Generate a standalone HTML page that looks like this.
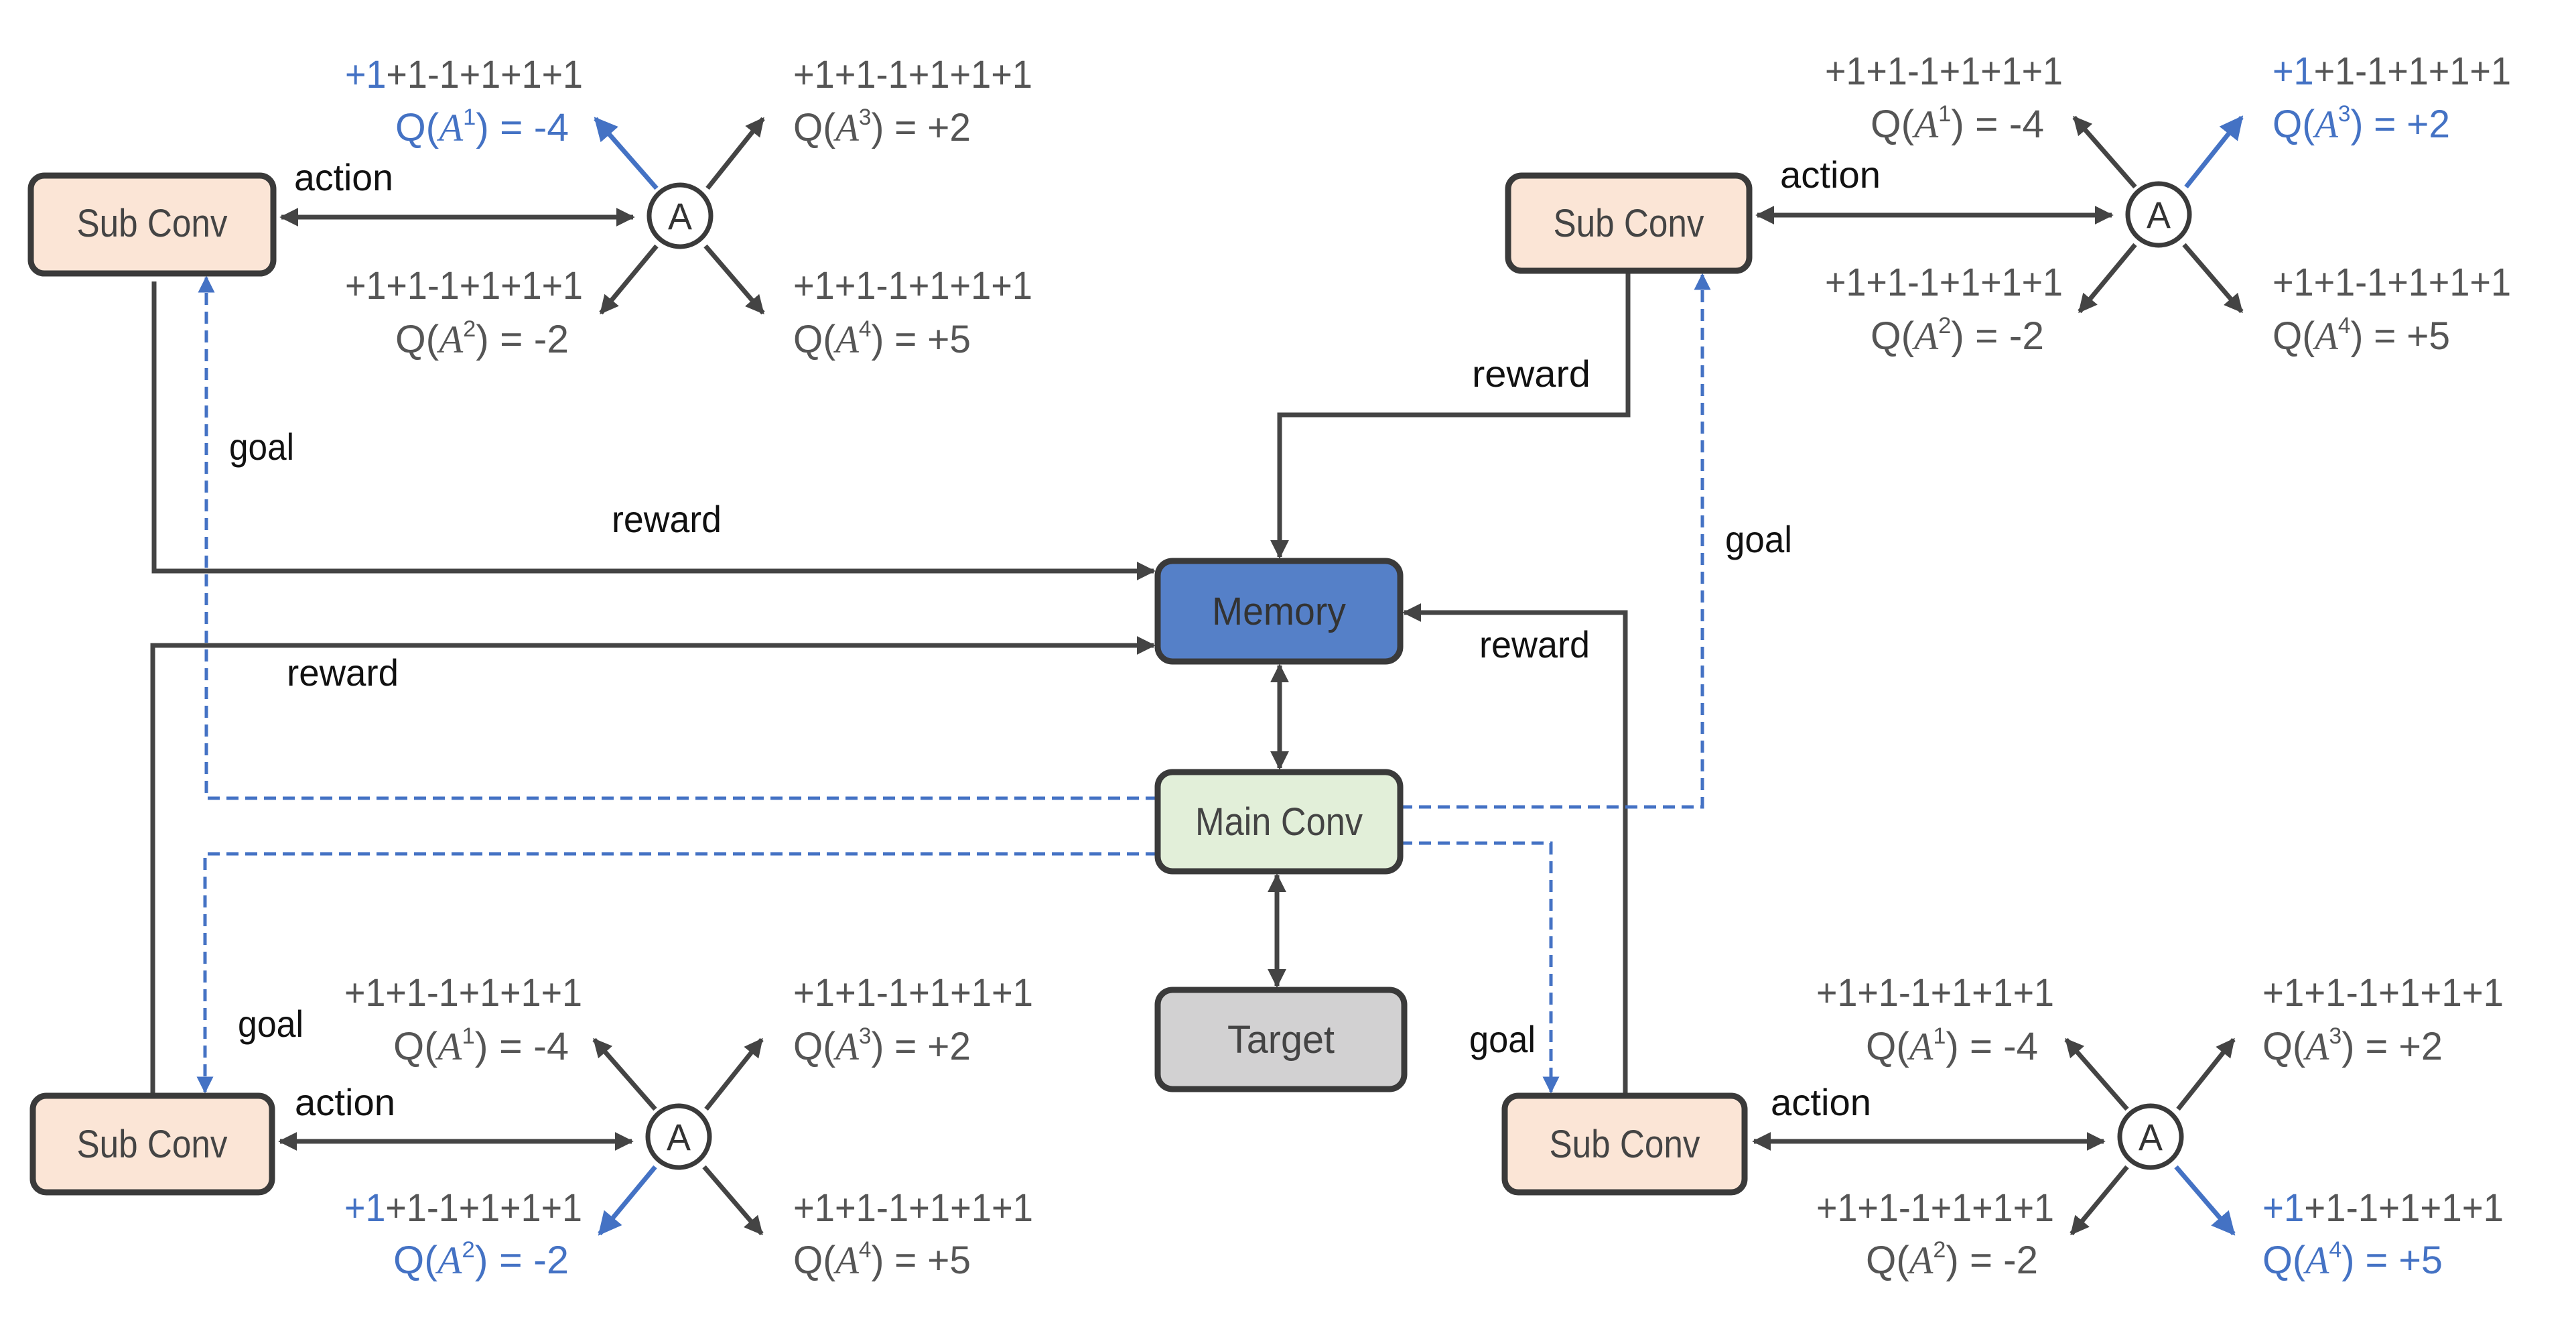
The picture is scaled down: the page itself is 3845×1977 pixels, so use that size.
<!DOCTYPE html>
<html><head><meta charset="utf-8"><style>
html,body{margin:0;padding:0;background:#fff;}
svg{display:block;}
text{font-family:"Liberation Sans",sans-serif;}
</style></head><body>
<svg width="3845" height="1977" viewBox="0 0 3845 1977" xmlns="http://www.w3.org/2000/svg">
<defs>
<marker id="ah" viewBox="0 0 10 10" refX="9" refY="5" markerWidth="4" markerHeight="4" orient="auto-start-reverse" markerUnits="strokeWidth"><path d="M0,0 L10,5 L0,10 z" fill="#444"/></marker>
<marker id="ab" viewBox="0 0 10 10" refX="9" refY="5" markerWidth="5" markerHeight="5" orient="auto-start-reverse" markerUnits="strokeWidth"><path d="M0,0 L10,5 L0,10 z" fill="#4472c4"/></marker>
<g id="clusterbase"></g>
</defs>

<!-- connectors solid -->
<g fill="none" stroke="#444" stroke-width="7">
<polyline points="230,420 230,852 1722,852" marker-end="url(#ah)"/>
<polyline points="228,1635 228,963 1722,963" marker-end="url(#ah)"/>
<polyline points="2430,404 2430,619 1910,619 1910,831" marker-end="url(#ah)"/>
<polyline points="2426,1635 2426,914 2096,914" marker-end="url(#ah)"/>
<line x1="1910" y1="993" x2="1910" y2="1146" marker-start="url(#ah)" marker-end="url(#ah)"/>
<line x1="1906" y1="1306" x2="1906" y2="1471" marker-start="url(#ah)" marker-end="url(#ah)"/>
</g>
<!-- dashed goal -->
<g fill="none" stroke="#4472c4" stroke-width="5" stroke-dasharray="18 10">
<polyline points="1728,1191 308,1191 308,414" marker-end="url(#ab)"/>
<polyline points="1728,1274 306,1274 306,1629" marker-end="url(#ab)"/>
<polyline points="2090,1204 2541,1204 2541,410" marker-end="url(#ab)"/>
<polyline points="2090,1258 2315,1258 2315,1629" marker-end="url(#ab)"/>
</g>

<!-- center boxes -->
<g stroke="#3a3a3a" stroke-width="9">
<rect x="1728" y="837" width="362" height="150" rx="22" fill="#5580c8"/>
<rect x="1728" y="1152" width="362" height="148" rx="22" fill="#e2efd9"/>
<rect x="1728" y="1477" width="368" height="148" rx="22" fill="#d2d1d2"/>
</g>
<g font-size="58" text-anchor="middle" fill="#444">
<text x="1909" y="932" fill="#333" textLength="200" lengthAdjust="spacingAndGlyphs">Memory</text>
<text x="1909" y="1246" textLength="250" lengthAdjust="spacingAndGlyphs">Main Conv</text>
<text x="1912" y="1571" textLength="160" lengthAdjust="spacingAndGlyphs">Target</text>
</g>

<!-- labels -->
<g font-size="56" fill="#111">
<text x="913" y="794" textLength="164" lengthAdjust="spacingAndGlyphs">reward</text>
<text x="428" y="1023" textLength="167" lengthAdjust="spacingAndGlyphs">reward</text>
<text x="2197" y="577" textLength="177" lengthAdjust="spacingAndGlyphs">reward</text>
<text x="2208" y="981" textLength="165" lengthAdjust="spacingAndGlyphs">reward</text>
<text x="342" y="686" textLength="97" lengthAdjust="spacingAndGlyphs">goal</text>
<text x="2575" y="824" textLength="100" lengthAdjust="spacingAndGlyphs">goal</text>
<text x="355" y="1547" textLength="98" lengthAdjust="spacingAndGlyphs">goal</text>
<text x="2193" y="1570" textLength="99" lengthAdjust="spacingAndGlyphs">goal</text>
<text x="439" y="284" textLength="148" lengthAdjust="spacingAndGlyphs">action</text>
<text x="2657" y="280" textLength="150" lengthAdjust="spacingAndGlyphs">action</text>
<text x="440" y="1664" textLength="150" lengthAdjust="spacingAndGlyphs">action</text>
<text x="2643" y="1664" textLength="150" lengthAdjust="spacingAndGlyphs">action</text>
</g>

<!-- Sub Conv boxes -->
<g stroke="#3a3a3a" stroke-width="9" fill="#fbe5d6">
<rect x="46" y="262" width="362" height="146" rx="20"/>
<rect x="2251" y="262" width="360" height="142" rx="20"/>
<rect x="49" y="1635" width="357" height="144" rx="20"/>
<rect x="2246" y="1635" width="358" height="144" rx="20"/>
</g>
<g font-size="58" text-anchor="middle" fill="#444">
<text x="227" y="353" textLength="225" lengthAdjust="spacingAndGlyphs">Sub Conv</text>
<text x="2431" y="353" textLength="225" lengthAdjust="spacingAndGlyphs">Sub Conv</text>
<text x="227" y="1727" textLength="225" lengthAdjust="spacingAndGlyphs">Sub Conv</text>
<text x="2425" y="1727" textLength="225" lengthAdjust="spacingAndGlyphs">Sub Conv</text>
</g>

<!-- action arrows -->
<g stroke="#444" stroke-width="7">
<line x1="420" y1="324" x2="945" y2="324" marker-start="url(#ah)" marker-end="url(#ah)"/>
<line x1="2623" y1="321" x2="3152" y2="321" marker-start="url(#ah)" marker-end="url(#ah)"/>
<line x1="418" y1="1703" x2="943" y2="1703" marker-start="url(#ah)" marker-end="url(#ah)"/>
<line x1="2618" y1="1703" x2="3140" y2="1703" marker-start="url(#ah)" marker-end="url(#ah)"/>
</g>

<!-- clusters -->
<!-- TL -->
<g transform="translate(1015,322)">
<g stroke-width="7" fill="none">
<line x1="-35" y1="-41" x2="-126" y2="-145" stroke="#4472c4" marker-end="url(#ab)"/>
<line x1="41" y1="-41" x2="124" y2="-145" stroke="#444" marker-end="url(#ah)"/>
<line x1="-35" y1="45" x2="-118" y2="145" stroke="#444" marker-end="url(#ah)"/>
<line x1="38" y1="45" x2="124" y2="145" stroke="#444" marker-end="url(#ah)"/>
</g>
<circle r="46" fill="#fff" stroke="#3a3a3a" stroke-width="7"/>
<text x="0" y="20" font-size="56" text-anchor="middle" fill="#333" textLength="36" lengthAdjust="spacingAndGlyphs">A</text>
<g font-size="58" fill="#555">
<text x="-500" y="-191" textLength="355" lengthAdjust="spacingAndGlyphs"><tspan fill="#4472c4">+1</tspan>+1-1+1+1+1</text>
<text x="-425" y="-112" fill="#4472c4" textLength="259" lengthAdjust="spacingAndGlyphs">Q(<tspan font-style="italic" font-family="Liberation Serif">A</tspan><tspan font-size="34" dy="-24">1</tspan><tspan dy="24">) = -4</tspan></text>
<text x="169" y="-191" textLength="357" lengthAdjust="spacingAndGlyphs">+1+1-1+1+1+1</text>
<text x="169" y="-112" textLength="265" lengthAdjust="spacingAndGlyphs">Q(<tspan font-style="italic" font-family="Liberation Serif">A</tspan><tspan font-size="34" dy="-24">3</tspan><tspan dy="24">) = +2</tspan></text>
<text x="-500" y="124" textLength="355" lengthAdjust="spacingAndGlyphs">+1+1-1+1+1+1</text>
<text x="-425" y="204" textLength="259" lengthAdjust="spacingAndGlyphs">Q(<tspan font-style="italic" font-family="Liberation Serif">A</tspan><tspan font-size="34" dy="-24">2</tspan><tspan dy="24">) = -2</tspan></text>
<text x="169" y="124" textLength="357" lengthAdjust="spacingAndGlyphs">+1+1-1+1+1+1</text>
<text x="169" y="204" textLength="265" lengthAdjust="spacingAndGlyphs">Q(<tspan font-style="italic" font-family="Liberation Serif">A</tspan><tspan font-size="34" dy="-24">4</tspan><tspan dy="24">) = +5</tspan></text>
</g>
</g>
<!-- TR -->
<g transform="translate(3222,320)">
<g stroke-width="7" fill="none">
<line x1="-35" y1="-41" x2="-126" y2="-145" stroke="#444" marker-end="url(#ah)"/>
<line x1="41" y1="-41" x2="124" y2="-145" stroke="#4472c4" marker-end="url(#ab)"/>
<line x1="-35" y1="45" x2="-118" y2="145" stroke="#444" marker-end="url(#ah)"/>
<line x1="38" y1="45" x2="124" y2="145" stroke="#444" marker-end="url(#ah)"/>
</g>
<circle r="46" fill="#fff" stroke="#3a3a3a" stroke-width="7"/>
<text x="0" y="20" font-size="56" text-anchor="middle" fill="#333" textLength="36" lengthAdjust="spacingAndGlyphs">A</text>
<g font-size="58" fill="#555">
<text x="-498" y="-194" textLength="355" lengthAdjust="spacingAndGlyphs">+1+1-1+1+1+1</text>
<text x="-430" y="-115" textLength="259" lengthAdjust="spacingAndGlyphs">Q(<tspan font-style="italic" font-family="Liberation Serif">A</tspan><tspan font-size="34" dy="-24">1</tspan><tspan dy="24">) = -4</tspan></text>
<text x="170" y="-194" textLength="356" lengthAdjust="spacingAndGlyphs"><tspan fill="#4472c4">+1</tspan>+1-1+1+1+1</text>
<text x="170" y="-115" fill="#4472c4" textLength="265" lengthAdjust="spacingAndGlyphs">Q(<tspan font-style="italic" font-family="Liberation Serif">A</tspan><tspan font-size="34" dy="-24">3</tspan><tspan dy="24">) = +2</tspan></text>
<text x="-498" y="121" textLength="355" lengthAdjust="spacingAndGlyphs">+1+1-1+1+1+1</text>
<text x="-430" y="201" textLength="259" lengthAdjust="spacingAndGlyphs">Q(<tspan font-style="italic" font-family="Liberation Serif">A</tspan><tspan font-size="34" dy="-24">2</tspan><tspan dy="24">) = -2</tspan></text>
<text x="170" y="121" textLength="356" lengthAdjust="spacingAndGlyphs">+1+1-1+1+1+1</text>
<text x="170" y="201" textLength="265" lengthAdjust="spacingAndGlyphs">Q(<tspan font-style="italic" font-family="Liberation Serif">A</tspan><tspan font-size="34" dy="-24">4</tspan><tspan dy="24">) = +5</tspan></text>
</g>
</g>
<!-- BL -->
<g transform="translate(1013,1696)">
<g stroke-width="7" fill="none">
<line x1="-35" y1="-41" x2="-126" y2="-145" stroke="#444" marker-end="url(#ah)"/>
<line x1="41" y1="-41" x2="124" y2="-145" stroke="#444" marker-end="url(#ah)"/>
<line x1="-35" y1="45" x2="-118" y2="145" stroke="#4472c4" marker-end="url(#ab)"/>
<line x1="38" y1="45" x2="124" y2="145" stroke="#444" marker-end="url(#ah)"/>
</g>
<circle r="46" fill="#fff" stroke="#3a3a3a" stroke-width="7"/>
<text x="0" y="20" font-size="56" text-anchor="middle" fill="#333" textLength="36" lengthAdjust="spacingAndGlyphs">A</text>
<g font-size="58" fill="#555">
<text x="-499" y="-195" textLength="355" lengthAdjust="spacingAndGlyphs">+1+1-1+1+1+1</text>
<text x="-426" y="-115" textLength="262" lengthAdjust="spacingAndGlyphs">Q(<tspan font-style="italic" font-family="Liberation Serif">A</tspan><tspan font-size="34" dy="-24">1</tspan><tspan dy="24">) = -4</tspan></text>
<text x="171" y="-195" textLength="358" lengthAdjust="spacingAndGlyphs">+1+1-1+1+1+1</text>
<text x="171" y="-115" textLength="265" lengthAdjust="spacingAndGlyphs">Q(<tspan font-style="italic" font-family="Liberation Serif">A</tspan><tspan font-size="34" dy="-24">3</tspan><tspan dy="24">) = +2</tspan></text>
<text x="-499" y="126" textLength="355" lengthAdjust="spacingAndGlyphs"><tspan fill="#4472c4">+1</tspan>+1-1+1+1+1</text>
<text x="-426" y="204" fill="#4472c4" textLength="262" lengthAdjust="spacingAndGlyphs">Q(<tspan font-style="italic" font-family="Liberation Serif">A</tspan><tspan font-size="34" dy="-24">2</tspan><tspan dy="24">) = -2</tspan></text>
<text x="171" y="126" textLength="358" lengthAdjust="spacingAndGlyphs">+1+1-1+1+1+1</text>
<text x="171" y="204" textLength="265" lengthAdjust="spacingAndGlyphs">Q(<tspan font-style="italic" font-family="Liberation Serif">A</tspan><tspan font-size="34" dy="-24">4</tspan><tspan dy="24">) = +5</tspan></text>
</g>
</g>
<!-- BR -->
<g transform="translate(3210,1696)">
<g stroke-width="7" fill="none">
<line x1="-35" y1="-41" x2="-126" y2="-145" stroke="#444" marker-end="url(#ah)"/>
<line x1="41" y1="-41" x2="124" y2="-145" stroke="#444" marker-end="url(#ah)"/>
<line x1="-35" y1="45" x2="-118" y2="145" stroke="#444" marker-end="url(#ah)"/>
<line x1="38" y1="45" x2="124" y2="145" stroke="#4472c4" marker-end="url(#ab)"/>
</g>
<circle r="46" fill="#fff" stroke="#3a3a3a" stroke-width="7"/>
<text x="0" y="20" font-size="56" text-anchor="middle" fill="#333" textLength="36" lengthAdjust="spacingAndGlyphs">A</text>
<g font-size="58" fill="#555">
<text x="-499" y="-195" textLength="355" lengthAdjust="spacingAndGlyphs">+1+1-1+1+1+1</text>
<text x="-425" y="-115" textLength="257" lengthAdjust="spacingAndGlyphs">Q(<tspan font-style="italic" font-family="Liberation Serif">A</tspan><tspan font-size="34" dy="-24">1</tspan><tspan dy="24">) = -4</tspan></text>
<text x="167" y="-195" textLength="360" lengthAdjust="spacingAndGlyphs">+1+1-1+1+1+1</text>
<text x="167" y="-115" textLength="269" lengthAdjust="spacingAndGlyphs">Q(<tspan font-style="italic" font-family="Liberation Serif">A</tspan><tspan font-size="34" dy="-24">3</tspan><tspan dy="24">) = +2</tspan></text>
<text x="-499" y="126" textLength="355" lengthAdjust="spacingAndGlyphs">+1+1-1+1+1+1</text>
<text x="-425" y="204" textLength="257" lengthAdjust="spacingAndGlyphs">Q(<tspan font-style="italic" font-family="Liberation Serif">A</tspan><tspan font-size="34" dy="-24">2</tspan><tspan dy="24">) = -2</tspan></text>
<text x="167" y="126" textLength="360" lengthAdjust="spacingAndGlyphs"><tspan fill="#4472c4">+1</tspan>+1-1+1+1+1</text>
<text x="167" y="204" fill="#4472c4" textLength="269" lengthAdjust="spacingAndGlyphs">Q(<tspan font-style="italic" font-family="Liberation Serif">A</tspan><tspan font-size="34" dy="-24">4</tspan><tspan dy="24">) = +5</tspan></text>
</g>
</g>
</svg>
</body></html>
